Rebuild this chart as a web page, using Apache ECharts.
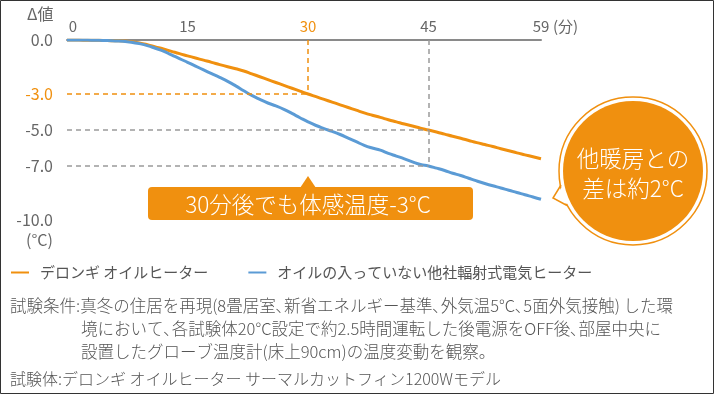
<!DOCTYPE html>
<html><head><meta charset="utf-8">
<script src="https://cdn.jsdelivr.net/npm/echarts@6/dist/echarts.min.js"></script>
<style>html,body{margin:0;padding:0;background:#fff}#c{width:715px;height:395px}</style>
</head><body><div id="c"></div>
<script>
const minutes = [0,1,2,3,4,5,6,7,8,9,10,11,12,13,14,15,16,17,18,19,20,21,22,23,24,25,26,27,28,29,30,31,32,33,34,35,36,37,38,39,40,41,42,43,44,45,46,47,48,49,50,51,52,53,54,55,56,57,58,59];
const delonghi = [0,0,-0.01,-0.01,-0.02,-0.03,-0.04,-0.05,-0.09,-0.16,-0.26,-0.38,-0.5,-0.63,-0.76,-0.88,-1.0,-1.12,-1.24,-1.37,-1.49,-1.6,-1.72,-1.88,-2.04,-2.2,-2.36,-2.52,-2.68,-2.84,-3.0,-3.15,-3.3,-3.45,-3.6,-3.75,-3.9,-4.05,-4.18,-4.3,-4.43,-4.55,-4.67,-4.78,-4.9,-5.0,-5.11,-5.23,-5.35,-5.46,-5.58,-5.7,-5.81,-5.92,-6.04,-6.15,-6.27,-6.38,-6.49,-6.6];
const other = [0,0,0,-0.01,-0.02,-0.03,-0.05,-0.07,-0.12,-0.2,-0.31,-0.46,-0.62,-0.83,-1.03,-1.24,-1.45,-1.66,-1.87,-2.08,-2.3,-2.55,-2.82,-3.08,-3.3,-3.5,-3.66,-3.85,-4.08,-4.32,-4.55,-4.75,-4.92,-5.08,-5.25,-5.45,-5.65,-5.85,-6.0,-6.12,-6.3,-6.45,-6.6,-6.77,-6.92,-7.0,-7.12,-7.25,-7.4,-7.53,-7.68,-7.83,-7.97,-8.1,-8.22,-8.35,-8.47,-8.6,-8.72,-8.85];
const seriesNames = ['デロンギ オイルヒーター','オイルの入っていない他社輻射式電気ヒーター'];
const xTicks = [0,15,30,45,59];
const yTicks = [0,-3,-5,-7,-10];
const xHighlight = 30, yHighlight = -3;
const refX2 = 45, refYs = [-5,-7];
const noteLines = [
  '試験条件:真冬の住居を再現(8畳居室､新省エネルギー基準､外気温5°C､5面外気接触) した環',
  '境において､各試験体20°C設定で約2.5時間運転した後電源をOFF後､部屋中央に',
  '設置したグローブ温度計(床上90cm)の温度変動を観察。',
  '試験体:デロンギ オイルヒーター サーマルカットフィン1200Wモデル'
];
const ORANGE = '#F0900F', BLUE = '#5B9BD5', GRAY = '#666', FONT = '"Noto Sans CJK JP", sans-serif';

const chart = echarts.init(document.getElementById('c'), null, {renderer:'canvas'});
const dash = [5,4];
chart.setOption({
  animation:false,
  textStyle:{fontFamily:FONT},
  grid:{left:67,right:174,top:40,height:180},
  xAxis:{type:'value',position:'top',min:0,max:59,interval:1,
    axisLine:{lineStyle:{color:'#8a8a8a',width:2}},axisTick:{show:false},splitLine:{show:false},
    axisLabel:{margin:6,fontSize:15,fontFamily:FONT,
      color:v=>Number(v)===xHighlight?ORANGE:GRAY,
      formatter:v=>xTicks.includes(v)?(v===0?'{a|0}':String(v)):'',
      rich:{a:{padding:[0,0,0,12],fontSize:15,color:GRAY}}}},
  yAxis:{type:'value',min:-10,max:0,interval:1,
    axisLine:{show:false},axisTick:{show:false},splitLine:{show:false},
    axisLabel:{margin:14,fontSize:16,fontFamily:FONT,
      color:v=>Number(v)===yHighlight?ORANGE:GRAY,
      formatter:v=>yTicks.includes(v)?v.toFixed(1):''}},
  legend:{left:6,top:260,itemWidth:18,itemHeight:2,icon:'rect',itemGap:40,
    textStyle:{fontSize:15,color:'#555',fontFamily:FONT,padding:[0,0,0,6]},
    data:seriesNames},
  series:[
    {type:'line',name:'refs',data:[],z:1,silent:true,
     markLine:{symbol:'none',silent:true,label:{show:false},animation:false,
      data:[
        [{coord:[0,yHighlight],lineStyle:{color:ORANGE,type:dash,width:1.5}},{coord:[xHighlight,yHighlight]}],
        [{coord:[xHighlight,0],lineStyle:{color:ORANGE,type:dash,width:1.5}},{coord:[xHighlight,yHighlight]}],
        [{coord:[0,refYs[0]],lineStyle:{color:'#9a9a9a',type:dash,width:1.5}},{coord:[refX2,refYs[0]]}],
        [{coord:[0,refYs[1]],lineStyle:{color:'#9a9a9a',type:dash,width:1.5}},{coord:[refX2,refYs[1]]}],
        [{coord:[refX2,0],lineStyle:{color:'#9a9a9a',type:dash,width:1.5}},{coord:[refX2,refYs[1]]}]
      ]}},
    {type:'line',name:seriesNames[0],data:minutes.map((m,i)=>[m,delonghi[i]]),showSymbol:false,smooth:true,
     lineStyle:{color:ORANGE,width:3},itemStyle:{color:ORANGE},z:3},
    {type:'line',name:seriesNames[1],data:minutes.map((m,i)=>[m,other[i]]),showSymbol:false,smooth:true,
     lineStyle:{color:BLUE,width:3},itemStyle:{color:BLUE},z:4}
  ],
  graphic:[
    {type:'rect',shape:{x:0.5,y:0.5,width:713,height:393},style:{fill:'none',stroke:'#333',lineWidth:1},z:100},
    {type:'text',left:27,top:6,style:{text:'Δ値',fontSize:16,fill:GRAY,fontFamily:FONT}},
    {type:'text',left:26,top:232,style:{text:'(°C)',fontSize:16,fill:GRAY,fontFamily:FONT}},
    {type:'text',left:553,top:19,style:{text:'(分)',fontSize:15,fill:GRAY,fontFamily:FONT}},
    // callout box
    {type:'polygon',shape:{points:[[300,188],[308,176],[316,188]]},style:{fill:ORANGE},z:10},
    {type:'rect',shape:{x:148,y:187,width:325,height:33,r:4},style:{fill:ORANGE},z:10},
    {type:'text',x:308,y:204,style:{text:'30分後でも体感温度-3°C',fontSize:22.5,fontWeight:300,fill:'#fff',fontFamily:FONT,align:'center',verticalAlign:'middle'},z:11},
    // circle callout
    {type:'circle',shape:{cx:633,cy:171,r:74},style:{fill:'#fff',stroke:ORANGE,lineWidth:1.5},z:10},
    {type:'polygon',shape:{points:[[562.5,186],[555,198],[567,204],[576,195]]},style:{fill:'#fff'},z:11},
    {type:'polyline',shape:{points:[[561,185],[553,198],[567,205.5]]},style:{stroke:ORANGE,lineWidth:1.5,fill:'none'},z:11},
    {type:'circle',shape:{cx:633,cy:171,r:70},style:{fill:ORANGE},z:12},
    {type:'text',x:633,y:158,style:{text:'他暖房との',fontSize:22.5,fontWeight:300,fill:'#fff',fontFamily:FONT,align:'center',verticalAlign:'middle'},z:13},
    {type:'text',x:633,y:188,style:{text:'差は約2°C',fontSize:22.5,fontWeight:300,fill:'#fff',fontFamily:FONT,align:'center',verticalAlign:'middle'},z:13},
    // notes
    {type:'text',left:10,top:297,style:{text:noteLines[0],fontSize:16.5,fontWeight:300,fill:'#555',fontFamily:FONT}},
    {type:'text',left:81,top:320,style:{text:noteLines[1],fontSize:16.5,fontWeight:300,fill:'#555',fontFamily:FONT}},
    {type:'text',left:81,top:343,style:{text:noteLines[2],fontSize:16.5,fontWeight:300,fill:'#555',fontFamily:FONT}},
    {type:'text',left:10,top:371,style:{text:noteLines[3],fontSize:16,fontWeight:300,fill:'#555',fontFamily:FONT}}
  ]
});
</script></body></html>
